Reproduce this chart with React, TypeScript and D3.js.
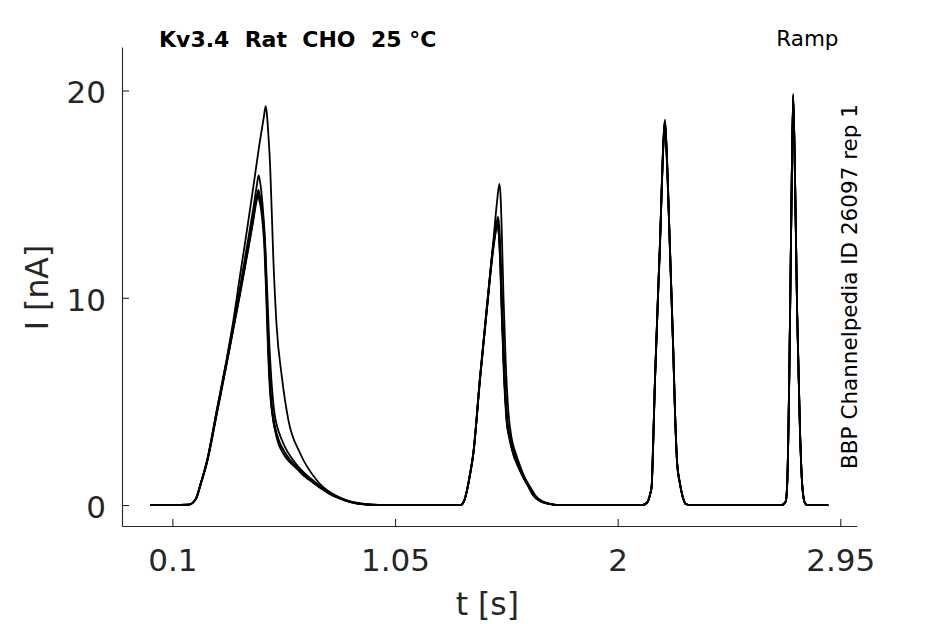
import { useEffect, useRef } from 'react'
import { select, scaleLinear, axisBottom, axisLeft, line, curveMonotoneX } from 'd3'

// time [s], current [nA]
const traceA: [number, number][] = [
  [0.005, 0], [0.1, 0], [0.17, 0.02], [0.2, 0.3], [0.22, 1.0], [0.25, 2.25], [0.29, 4.6], [0.33, 6.95], [0.36, 8.9],
  [0.389, 11.1], [0.42, 13.4], [0.446, 15.4], [0.47, 17.3], [0.49, 18.7], [0.498, 19.25], [0.503, 18.9], [0.51, 17.8],
  [0.517, 16.4], [0.531, 11.8], [0.545, 8.6], [0.567, 6.2], [0.595, 4.1], [0.645, 2.5], [0.716, 1.2], [0.787, 0.5],
  [0.85, 0.2], [0.93, 0.04], [1.0, 0],
  [1.33, 0], [1.345, 0.2], [1.357, 0.72], [1.37, 1.5], [1.384, 2.5], [1.413, 6.2], [1.441, 9.5], [1.47, 12.8],
  [1.485, 14.6], [1.495, 15.5], [1.5, 15.0], [1.506, 13.0], [1.513, 10.0], [1.522, 7.0], [1.533, 4.6], [1.548, 3.2],
  [1.565, 2.5], [1.585, 1.85], [1.605, 1.3], [1.628, 0.85], [1.65, 0.45], [1.68, 0.18], [1.71, 0.06], [1.76, 0],
  [2.105, 0], [2.124, 0.1], [2.138, 0.5], [2.145, 0.9], [2.151, 2.8], [2.159, 6.0], [2.18, 12.5], [2.197, 17.9],
  [2.202, 18.6], [2.207, 17.7], [2.223, 12.5], [2.237, 7.6], [2.245, 4.4], [2.254, 2.0], [2.266, 1.05], [2.28, 0.3],
  [2.29, 0.05], [2.31, 0],
  [2.7, 0], [2.717, 0.17], [2.724, 1.2], [2.732, 6.0], [2.741, 14.1], [2.749, 19.85], [2.757, 15.7], [2.766, 9.26],
  [2.778, 3.6], [2.788, 0.9], [2.799, 0.1], [2.81, 0], [2.899, 0],
]

const traceB: [number, number][] = [
  [0.005, 0], [0.1, 0], [0.17, 0.02], [0.2, 0.3], [0.22, 1.0], [0.25, 2.25], [0.29, 4.6], [0.33, 6.9], [0.36, 8.7],
  [0.39, 10.6], [0.42, 12.6], [0.445, 14.3], [0.46, 15.4], [0.468, 15.9], [0.474, 15.6], [0.484, 14.6], [0.497, 12.4],
  [0.505, 10.2], [0.512, 8.2], [0.524, 5.8], [0.536, 4.4], [0.548, 3.75], [0.565, 3.2], [0.585, 2.7], [0.61, 2.25],
  [0.638, 1.85], [0.672, 1.45], [0.708, 1.12], [0.745, 0.82], [0.778, 0.58], [0.82, 0.34], [0.865, 0.15], [0.925, 0.04],
  [0.99, 0],
  [1.33, 0], [1.345, 0.2], [1.357, 0.7], [1.37, 1.45], [1.384, 2.45], [1.413, 6.1], [1.441, 9.4], [1.47, 12.6],
  [1.483, 13.6], [1.489, 13.9], [1.495, 13.4], [1.501, 11.9], [1.507, 9.8], [1.517, 6.6], [1.529, 4.2], [1.542, 3.25],
  [1.557, 2.55], [1.577, 1.95], [1.599, 1.4], [1.622, 0.92], [1.642, 0.5], [1.672, 0.21], [1.702, 0.08], [1.75, 0],
  [2.105, 0], [2.124, 0.1], [2.138, 0.5], [2.145, 0.9], [2.151, 2.7], [2.159, 5.9], [2.18, 12.4], [2.197, 17.8],
  [2.202, 18.4], [2.207, 17.6], [2.223, 12.4], [2.237, 7.5], [2.245, 4.4], [2.254, 2.0], [2.266, 1.0], [2.28, 0.3],
  [2.29, 0.05], [2.31, 0],
  [2.7, 0], [2.717, 0.17], [2.724, 1.2], [2.732, 6.0], [2.741, 14.0], [2.749, 19.7], [2.757, 15.6], [2.766, 9.2],
  [2.778, 3.6], [2.788, 0.9], [2.799, 0.1], [2.81, 0], [2.899, 0],
]

const traceC: [number, number][] = [
  [0.005, 0], [0.1, 0], [0.17, 0.02], [0.2, 0.3], [0.22, 1.0], [0.25, 2.2], [0.29, 4.5], [0.33, 6.8], [0.36, 8.6],
  [0.39, 10.4], [0.42, 12.3], [0.445, 13.9], [0.46, 14.9], [0.467, 15.2], [0.472, 15.0], [0.481, 14.5], [0.495, 12.6],
  [0.503, 10.2], [0.51, 7.8], [0.52, 5.4], [0.53, 4.3], [0.538, 3.78], [0.555, 3.1], [0.574, 2.65], [0.6, 2.2],
  [0.63, 1.85], [0.665, 1.45], [0.702, 1.12], [0.74, 0.8], [0.773, 0.56], [0.815, 0.33], [0.86, 0.15], [0.92, 0.03],
  [0.98, 0],
  [1.33, 0], [1.345, 0.2], [1.357, 0.72], [1.37, 1.5], [1.384, 2.5], [1.413, 6.2], [1.441, 9.4], [1.47, 12.6],
  [1.483, 13.5], [1.488, 13.7], [1.494, 13.2], [1.5, 11.8], [1.505, 9.8], [1.515, 6.5], [1.527, 4.1], [1.54, 3.2],
  [1.555, 2.5], [1.575, 1.9], [1.597, 1.37], [1.62, 0.9], [1.64, 0.48], [1.67, 0.2], [1.7, 0.08], [1.75, 0],
  [2.105, 0], [2.124, 0.1], [2.138, 0.5], [2.145, 0.9], [2.151, 2.8], [2.159, 6.0], [2.18, 12.5], [2.197, 18.0],
  [2.201, 18.5], [2.206, 17.7], [2.223, 12.5], [2.237, 7.6], [2.245, 4.4], [2.254, 2.0], [2.266, 1.05], [2.28, 0.3],
  [2.29, 0.05], [2.31, 0],
  [2.7, 0], [2.717, 0.17], [2.724, 1.2], [2.732, 6.0], [2.741, 14.1], [2.749, 19.8], [2.757, 15.7], [2.766, 9.3],
  [2.778, 3.6], [2.788, 0.9], [2.799, 0.1], [2.81, 0], [2.899, 0],
]

const traceD: [number, number][] = [
  [0.005, 0], [0.1, 0], [0.17, 0.02], [0.2, 0.28], [0.22, 0.95], [0.25, 2.15], [0.29, 4.4], [0.33, 6.7], [0.36, 8.5],
  [0.39, 10.3], [0.42, 12.2], [0.445, 13.8], [0.459, 14.8], [0.466, 15.05], [0.471, 14.9], [0.48, 14.4], [0.494, 12.5],
  [0.502, 10.0], [0.509, 7.6], [0.519, 5.3], [0.529, 4.2], [0.537, 3.65], [0.553, 2.95], [0.572, 2.5], [0.598, 2.1],
  [0.628, 1.78], [0.662, 1.4], [0.7, 1.08], [0.737, 0.78], [0.77, 0.54], [0.812, 0.32], [0.858, 0.14], [0.918, 0.03],
  [0.98, 0],
  [1.33, 0], [1.345, 0.2], [1.357, 0.7], [1.37, 1.45], [1.384, 2.45], [1.413, 6.1], [1.441, 9.3], [1.47, 12.4],
  [1.482, 13.3], [1.487, 13.5], [1.493, 13.0], [1.499, 11.6], [1.504, 9.6], [1.514, 6.4], [1.526, 4.05], [1.539, 3.15],
  [1.554, 2.45], [1.574, 1.88], [1.596, 1.35], [1.619, 0.88], [1.639, 0.47], [1.669, 0.19], [1.699, 0.07], [1.75, 0],
  [2.105, 0], [2.124, 0.1], [2.138, 0.5], [2.145, 0.9], [2.151, 2.7], [2.159, 5.9], [2.18, 12.3], [2.197, 17.7],
  [2.201, 18.3], [2.206, 17.5], [2.223, 12.3], [2.237, 7.5], [2.245, 4.3], [2.254, 1.95], [2.266, 1.0], [2.28, 0.3],
  [2.29, 0.05], [2.31, 0],
  [2.7, 0], [2.717, 0.17], [2.724, 1.2], [2.732, 5.9], [2.741, 13.9], [2.749, 19.6], [2.757, 15.5], [2.766, 9.1],
  [2.778, 3.5], [2.788, 0.9], [2.799, 0.1], [2.81, 0], [2.899, 0],
]

const traceE: [number, number][] = [
  [0.005, 0], [0.1, 0], [0.17, 0.02], [0.2, 0.3], [0.22, 1.0], [0.25, 2.2], [0.29, 4.5], [0.33, 6.75], [0.36, 8.5],
  [0.39, 10.25], [0.42, 12.1], [0.445, 13.7], [0.458, 14.6], [0.465, 14.9], [0.47, 14.75], [0.479, 14.2], [0.493, 12.3],
  [0.501, 9.9], [0.508, 7.5], [0.518, 5.25], [0.528, 4.25], [0.536, 3.75], [0.552, 3.12], [0.571, 2.7], [0.597, 2.25],
  [0.627, 1.88], [0.661, 1.47], [0.698, 1.13], [0.735, 0.82], [0.768, 0.57], [0.81, 0.34], [0.856, 0.15], [0.916, 0.03],
  [0.98, 0],
  [1.33, 0], [1.345, 0.2], [1.357, 0.7], [1.37, 1.5], [1.384, 2.5], [1.413, 6.2], [1.441, 9.35], [1.47, 12.5],
  [1.482, 13.4], [1.487, 13.6], [1.493, 13.1], [1.499, 11.7], [1.505, 9.7], [1.515, 6.5], [1.527, 4.1], [1.54, 3.2],
  [1.555, 2.5], [1.575, 1.9], [1.597, 1.37], [1.62, 0.9], [1.64, 0.48], [1.67, 0.2], [1.7, 0.08], [1.75, 0],
  [2.105, 0], [2.124, 0.1], [2.138, 0.5], [2.145, 0.9], [2.151, 2.8], [2.159, 6.0], [2.18, 12.4], [2.197, 17.9],
  [2.202, 18.5], [2.207, 17.6], [2.223, 12.4], [2.237, 7.6], [2.245, 4.4], [2.254, 2.0], [2.266, 1.05], [2.28, 0.3],
  [2.29, 0.05], [2.31, 0],
  [2.7, 0], [2.717, 0.17], [2.724, 1.2], [2.732, 6.0], [2.741, 14.0], [2.749, 19.75], [2.757, 15.6], [2.766, 9.2],
  [2.778, 3.6], [2.788, 0.9], [2.799, 0.1], [2.81, 0], [2.899, 0],
]

const traces = [traceE, traceD, traceC, traceB, traceA]

const xTicks = [0.1, 1.05, 2, 2.95]
const yTicks = [0, 10, 20]

const title = 'Kv3.4  Rat  CHO  25 °C'
const protocol = 'Ramp'
const sideLabel = 'BBP Channelpedia ID 26097 rep 1'

const W = 945
const H = 624
const left = 122
const right = 856.7
const top = 47
const bottom = 526
const axisColor = '#262626'
const font = '"DejaVu Sans", sans-serif'

export default function App() {
  const xAxisRef = useRef<SVGGElement | null>(null)
  const yAxisRef = useRef<SVGGElement | null>(null)

  const xScale = scaleLinear().domain([-0.115, 3.02]).range([left, right])
  const yScale = scaleLinear().domain([-1.01, 22.1]).range([bottom, top])

  const trace = line<[number, number]>()
    .x((d) => xScale(d[0]))
    .y((d) => yScale(d[1]))
    .curve(curveMonotoneX)

  useEffect(() => {
    const xAxis = axisBottom(xScale)
      .tickValues(xTicks)
      .tickFormat((d) => String(d))
      .tickSizeInner(-7)
      .tickSizeOuter(0)
      .tickPadding(23)
    const gx = select(xAxisRef.current)
    gx.call(xAxis as any)

    const yAxis = axisLeft(yScale)
      .tickValues(yTicks)
      .tickFormat((d) => String(d))
      .tickSizeInner(-7)
      .tickSizeOuter(0)
      .tickPadding(16)
    const gy = select(yAxisRef.current)
    gy.call(yAxis as any)
    gy.selectAll('.tick text').attr('dy', '0.4em')

    for (const g of [gx, gy]) {
      g.attr('font-family', font).attr('font-size', 31)
      g.selectAll('path, line').attr('stroke', axisColor).attr('stroke-width', 1.1)
      g.selectAll('text').attr('fill', axisColor)
    }
  }, [])

  return (
    <svg
      width={W}
      height={H}
      style={{ position: 'absolute', left: 0, top: 0, background: '#fff' }}
    >
      <g ref={xAxisRef} transform={`translate(0,${bottom})`} />
      <g ref={yAxisRef} transform={`translate(${left},0)`} />

      {traces.map((t, i) => (
        <path key={i} d={trace(t) ?? ''} fill="none" stroke="#000" strokeWidth={1.8} strokeLinejoin="round" />
      ))}

      <text x={159} y={46.5} fontFamily={font} fontWeight="bold" fontSize={22} fill="#000" style={{ whiteSpace: 'pre' }}>
        {title}
      </text>
      <text x={838.5} y={46} fontFamily={font} fontSize={21.5} fill="#000" textAnchor="end">
        {protocol}
      </text>
      <text
        transform={`translate(857,${(top + bottom) / 2}) rotate(-90)`}
        fontFamily={font}
        fontSize={21.5}
        fill="#000"
        textAnchor="middle"
      >
        {sideLabel}
      </text>

      <text x={(left + right) / 2 - 2} y={615} fontFamily={font} fontSize={31.5} fill={axisColor} textAnchor="middle">
        t [s]
      </text>
      <text
        transform={`translate(48.3,${(top + bottom) / 2 + 1}) rotate(-90)`}
        fontFamily={font}
        fontSize={31.5}
        fill={axisColor}
        textAnchor="middle"
      >
        I [nA]
      </text>
    </svg>
  )
}
